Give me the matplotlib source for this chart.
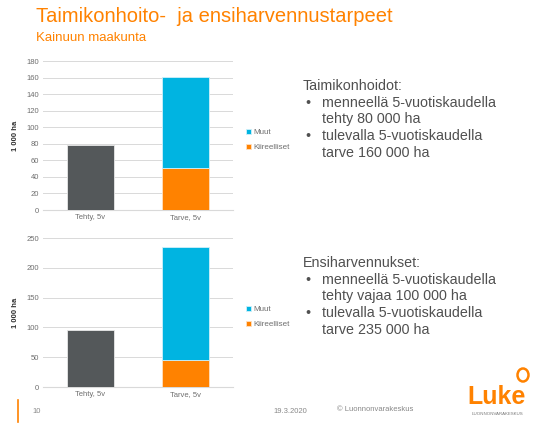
"""
Taimikonhoito- ja ensiharvennustarpeet, Kainuun maakunta
"""

import matplotlib.pyplot as plt
import matplotlib.patches as mpatches

plt.rcParams['font.family'] = ['Liberation Sans', 'DejaVu Sans']

# Data (1 000 ha)
categories = ['Tehty, 5v', 'Tarve, 5v']

# Taimikonhoidot
tk_tehty = [79, 0]
tk_kiireelliset = [0, 51]
tk_muut = [0, 110]

# Ensiharvennukset
eh_tehty = [96, 0]
eh_kiireelliset = [0, 45]
eh_muut = [0, 190]

c_gray = '#54585A'
c_blue = '#00B4E1'
c_orange = '#FF8200'
c_text = '#505050'
c_tick = '#6E6E6E'

fig = plt.figure(figsize=(5.41, 4.23), dpi=100)
fig.patch.set_facecolor('white')


def draw_panel(ax, tehty, kiir, muut, ymax, step, legend_y):
    x = range(len(categories))
    ax.bar(x, tehty, width=0.5, color=c_gray, edgecolor='#e8e8e8', linewidth=0.6, zorder=3)
    ax.bar(x, kiir, width=0.5, color=c_orange, edgecolor='#ffe0c0', linewidth=0.6,
           label='Kiireelliset', zorder=3)
    ax.bar(x, muut, width=0.5, bottom=kiir, color=c_blue, edgecolor='#d0f0fa', linewidth=0.6,
           label='Muut', zorder=3)
    ax.set_xlim(-0.5, 1.5)
    ax.set_ylim(0, ymax)
    ax.set_yticks(range(0, ymax + 1, step))
    ax.set_xticks(list(x))
    ax.set_xticklabels(categories)
    ax.grid(axis='y', color='#D9D9D9', linewidth=0.7, zorder=0)
    for s in ['left', 'right', 'top']:
        ax.spines[s].set_visible(False)
    ax.spines['bottom'].set_color('#D9D9D9')
    ax.tick_params(axis='both', length=0, labelsize=5.5, colors=c_tick, pad=3)
    ax.set_ylabel('1 000 ha', fontsize=5.5, color='#303030', fontweight='bold', labelpad=5)
    h, l = ax.get_legend_handles_labels()
    leg = ax.legend(h[::-1], l[::-1], loc='center left', bbox_to_anchor=(1.04, legend_y),
                    frameon=False, fontsize=5.8, handlelength=0.6, handleheight=0.6,
                    handletextpad=0.3, labelspacing=1.0, borderaxespad=0.3)
    for t in leg.get_texts():
        t.set_color(c_tick)


ax1 = fig.add_axes([0.0795, 0.5035, 0.351, 0.352])
draw_panel(ax1, tk_tehty, tk_kiireelliset, tk_muut, 180, 20, 0.47)

ax2 = fig.add_axes([0.0795, 0.0851, 0.351, 0.352])
draw_panel(ax2, eh_tehty, eh_kiireelliset, eh_muut, 250, 50, 0.47)

# Titles
fig.text(36 / 541, 1 - 16 / 423, 'Taimikonhoito-  ja ensiharvennustarpeet', color=c_orange,
         fontsize=14.5, va='center', ha='left')
fig.text(36 / 541, 1 - 38 / 423, 'Kainuun maakunta', color=c_orange,
         fontsize=9.5, va='center', ha='left')

# Text blocks
def text_block(y0, head, lines):
    fig.text(303 / 541, 1 - y0 / 423, head, fontsize=10.3, color=c_text, va='center')
    for i, ln in enumerate(lines):
        y = y0 + 16.7 * (i + 1)
        if i % 2 == 0:
            fig.text(305 / 541, 1 - y / 423, '•', fontsize=10.3, color=c_text, va='center')
        fig.text(322 / 541, 1 - y / 423, ln, fontsize=10.3, color=c_text, va='center')


text_block(86, 'Taimikonhoidot:', ['menneellä 5-vuotiskaudella', 'tehty 80 000 ha',
                                   'tulevalla 5-vuotiskaudella', 'tarve 160 000 ha'])
text_block(263, 'Ensiharvennukset:', ['menneellä 5-vuotiskaudella', 'tehty vajaa 100 000 ha',
                                      'tulevalla 5-vuotiskaudella', 'tarve 235 000 ha'])

# Footer
fig.add_artist(plt.Line2D([18 / 541, 18 / 541], [1 - 400 / 423, 1 - 422 / 423],
                          color=c_orange, linewidth=1.2))
fig.text(32 / 541, 1 - 411 / 423, '10', fontsize=5.5, color='#888888', va='center')
fig.text(273 / 541, 1 - 411 / 423, '19.3.2020', fontsize=5.5, color='#888888', va='center')
fig.text(337 / 541, 1 - 409 / 423, '© Luonnonvarakeskus', fontsize=5.5, color='#888888',
         va='center')

# Luke logo
fig.text(497 / 541, 1 - 397 / 423, 'Luke', fontsize=18, color=c_orange, ha='center',
         va='center', fontweight='bold')
fig.text(497 / 541, 1 - 414 / 423, 'LUONNONVARAKESKUS', fontsize=3.2, color='#777777',
         ha='center', va='center')
fig.add_artist(mpatches.Ellipse((523 / 541, 1 - 375 / 423), 11 / 541, 13 / 423,
                                fill=False, edgecolor=c_orange, linewidth=1.8))

plt.savefig('out.png', dpi=100)
